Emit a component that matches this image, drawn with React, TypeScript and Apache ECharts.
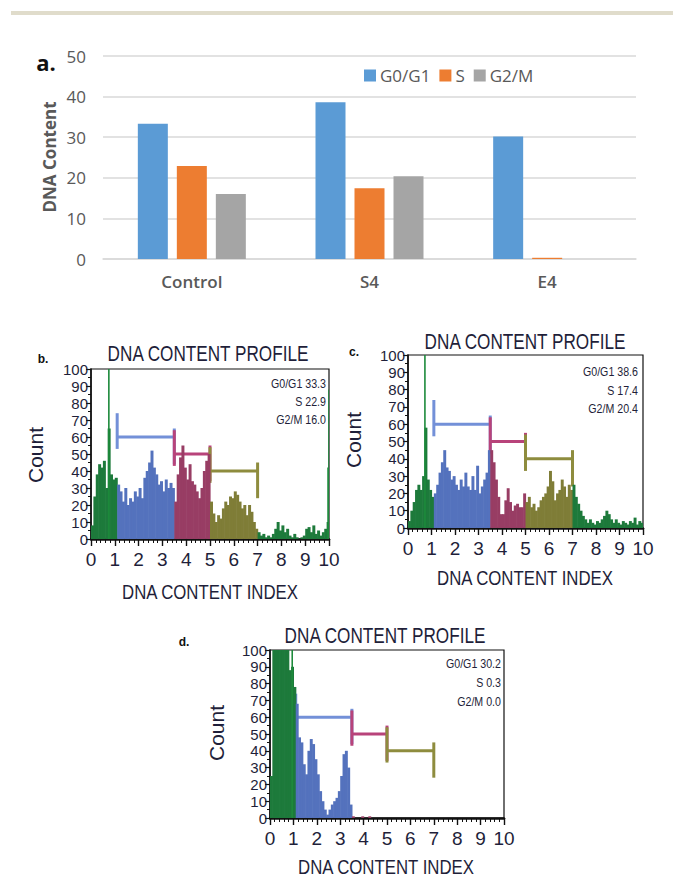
import React, { useEffect, useRef } from "react";
import * as echarts from "echarts";

// ---------- Panel a data ----------
const CATEGORIES = ["Control", "S4", "E4"];
const G0G1 = [33.3, 38.6, 30.2];
const S_PHASE = [22.9, 17.4, 0.3];
const G2M = [16.0, 20.4, 0.0];

// ---------- Histogram data (bins of 0.1 on DNA content index, 0..10) ----------
const BIN = 0.1;
const HIST_B = [
  8, 25, 38, 44, 42, 46, 30, 65, 38, 35,
  36, 32, 28, 22, 30, 20, 24, 22, 28, 25,
  30, 24, 36, 40, 45, 52, 42, 38, 32, 34,
  28, 35, 30, 33, 30, 22, 38, 48, 55, 42,
  35, 44, 34, 32, 28, 24, 30, 40, 46, 50,
  22, 15, 10, 14, 12, 18, 22, 20, 25, 24,
  28, 26, 22, 18, 20, 14, 20, 16, 10, 6,
  4, 2, 3, 1, 2, 1, 3, 6, 10, 5,
  8, 4, 6, 2, 1, 3, 1, 0, 1, 2,
  6, 7, 4, 8, 3, 5, 2, 4, 6, 10,
];
const HIST_C = [
  4, 10, 15, 22, 25, 22, 30, 58, 28, 22,
  18, 20, 25, 32, 38, 45, 35, 33, 28, 30,
  25, 22, 28, 24, 32, 24, 22, 30, 22, 36,
  20, 24, 28, 32, 45, 45, 38, 28, 18, 8,
  8, 16, 23, 15, 10, 13, 14, 12, 12, 20,
  15, 18, 12, 14, 10, 12, 16, 18, 20, 24,
  33, 27, 16, 20, 22, 28, 24, 18, 25, 22,
  25, 18, 14, 10, 7, 5, 3, 5, 3, 2,
  4, 3, 5, 7, 10, 8, 5, 3, 5, 3,
  2, 4, 3, 2, 4, 3, 6, 2, 4, 3,
];
const HIST_D = [
  25, 110, 110, 110, 110, 110, 110, 110, 88, 90,
  78, 68, 48, 45, 32, 26, 40, 47, 44, 35,
  26, 16, 10, 5, 2, 5, 8, 10, 12, 16,
  25, 38, 40, 30, 8, 1, 0, 0, 0, 1,
  0, 0, 1, 0, 0, 0, 0, 0, 0, 0,
  0, 0, 0, 0, 0, 0, 0, 0, 0, 0,
  0, 0, 0, 0, 0, 0, 0, 0, 0, 0,
  0, 0, 0, 0, 0, 0, 0, 0, 0, 0,
  0, 0, 0, 0, 0, 0, 0, 0, 0, 0,
  0, 0, 0, 0, 0, 0, 0, 0, 0, 0,
];
// narrow spikes (position, count)
const SPIKES_B = [[0.75, 100], [9.96, 42], [10.0, 88]];
const SPIKES_C = [[0.72, 100]];
const SPIKES_D = [[0.95, 100]];

// phase gates
const GATE_BOUNDS = [0, 1.1, 3.5, 5.0, 7.0, 10];
const BRACKET_START = [1.1, 3.5, 5.0];
const BRACKET_END = [3.5, 5.0, 7.0];
const BRACKET_LEVEL = [60, 50, 40];

const STATS_B = ["G0/G1 33.3", "S 22.9", "G2/M 16.0"];
const STATS_C = ["G0/G1 38.6", "S 17.4", "G2/M 20.4"];
const STATS_D = ["G0/G1 30.2", "S 0.3", "G2/M 0.0"];

// ---------- styles ----------
const BAR_COLORS = ["#5b9bd5", "#ed7d31", "#a5a5a5"];
const FILL_COLORS = ["#1d7a3b", "#5472bd", "#983d64", "#7f7d37", "#1d7a3b"];
const BRACKET_COLORS = ["#7390d8", "#b8437a", "#8e8c3e"];
const TXT_A = "#595959";
const TXT = "#1f1f3a";
const ARIAL = "'Liberation Sans', Arial, sans-serif";
const SANS_A = "'Open Sans', 'Noto Sans', sans-serif";

function colorFor(x: number) {
  for (let i = 0; i < GATE_BOUNDS.length - 1; i++) {
    if (x < GATE_BOUNDS[i + 1]) return FILL_COLORS[i];
  }
  return FILL_COLORS[FILL_COLORS.length - 1];
}

function histSeries(idx: number, hist: number[]) {
  return {
    type: "custom",
    xAxisIndex: idx,
    yAxisIndex: idx,
    clip: true,
    z: 3,
    silent: true,
    data: hist.map((v, i) => [i * BIN, v]),
    renderItem: (params: any, api: any) => {
      const x0 = api.value(0);
      const v = Math.min(api.value(1), 100);
      const a = api.coord([x0, 0]);
      const b = api.coord([x0 + BIN, v]);
      return {
        type: "rect",
        shape: { x: a[0], y: b[1], width: b[0] - a[0] + 0.6, height: a[1] - b[1] },
        style: { fill: colorFor(x0 + BIN / 2) },
      };
    },
  };
}

function spikeSeries(idx: number, spikes: number[][]) {
  return {
    type: "custom",
    xAxisIndex: idx,
    yAxisIndex: idx,
    clip: true,
    z: 4,
    silent: true,
    data: spikes,
    renderItem: (params: any, api: any) => {
      const a = api.coord([api.value(0), 0]);
      const b = api.coord([api.value(0), Math.min(api.value(1), 100)]);
      return {
        type: "line",
        shape: { x1: a[0], y1: a[1], x2: b[0], y2: b[1] },
        style: { stroke: "#1d8a3b", lineWidth: 1.6 },
      };
    },
  };
}

function bracketSeries(idx: number) {
  return {
    type: "custom",
    xAxisIndex: idx,
    yAxisIndex: idx,
    clip: false,
    z: 2,
    silent: true,
    data: BRACKET_START.map((s, i) => [s, BRACKET_END[i], BRACKET_LEVEL[i], i]),
    renderItem: (params: any, api: any) => {
      const s = api.value(0), e = api.value(1), lv = api.value(2);
      const col = BRACKET_COLORS[api.value(3)];
      const p1 = api.coord([s, lv]);
      const p2 = api.coord([e, lv]);
      const l1 = api.coord([s, lv - 7]);
      const l2 = api.coord([s, lv + 14]);
      const r1 = api.coord([e, lv - 16]);
      const r2 = api.coord([e, lv + 5]);
      const st = { stroke: col, lineWidth: 3 };
      return {
        type: "group",
        children: [
          { type: "line", shape: { x1: p1[0], y1: p1[1], x2: p2[0], y2: p2[1] }, style: st },
          { type: "line", shape: { x1: l1[0], y1: l1[1], x2: l2[0], y2: l2[1] }, style: st },
          { type: "line", shape: { x1: r1[0], y1: r1[1], x2: r2[0], y2: r2[1] }, style: st },
        ],
      };
    },
  };
}

function panelXAxis(idx: number) {
  return {
    gridIndex: idx,
    type: "value",
    min: 0,
    max: 10,
    interval: 1,
    axisLine: { show: true, onZero: false, lineStyle: { color: "#111", width: 2.5 } },
    axisTick: { show: true, length: 7, lineStyle: { color: "#111", width: 1.4 } },
    minorTick: { show: true, splitNumber: 5, length: 4, lineStyle: { color: "#111", width: 1 } },
    axisLabel: {
      margin: 11, fontSize: 19, fontFamily: ARIAL, color: TXT,
      showMinLabel: true, showMaxLabel: true, hideOverlap: false,
    },
    splitLine: { show: false },
  };
}

function panelYAxis(idx: number) {
  return {
    gridIndex: idx,
    type: "value",
    min: 0,
    max: 100,
    interval: 10,
    axisLine: { show: true, onZero: false, lineStyle: { color: "#111", width: 1.6 } },
    axisTick: { show: true, length: 5, lineStyle: { color: "#111", width: 1.2 } },
    minorTick: { show: true, splitNumber: 2, length: 3, lineStyle: { color: "#111", width: 1 } },
    axisLabel: {
      margin: 3, fontSize: 15, lineHeight: 15, fontFamily: ARIAL, color: TXT,
      showMinLabel: true, showMaxLabel: true, hideOverlap: false,
    },
    splitLine: { show: false },
  };
}

function txt(text: string, x: number, y: number, o: any = {}) {
  return {
    type: "text",
    x,
    y,
    rotation: o.rotation || 0,
    scaleX: o.scaleX || 1,
    z: 10,
    style: {
      text,
      fontSize: o.fontSize || 14,
      fontFamily: o.fontFamily || ARIAL,
      fontWeight: o.fontWeight || "normal",
      fill: o.fill || TXT,
      align: o.align || "center",
      verticalAlign: "middle",
    },
  };
}

function statsTexts(lines: string[], right: number, ys: number[]) {
  return lines.map((l, i) => txt(l, right, ys[i], { align: "right", fontSize: 13, scaleX: 0.82 }));
}

export default function App() {
  const ref = useRef<HTMLDivElement>(null);
  useEffect(() => {
    if (!ref.current) return;
    const chart = echarts.init(ref.current, undefined, { renderer: "svg" });
    const option: any = {
      animation: false,
      backgroundColor: "#ffffff",
      legend: {
        data: ["G0/G1", "S", "G2/M"],
        left: 359,
        top: 62,
        icon: "rect",
        itemWidth: 12,
        itemHeight: 12,
        itemGap: 9,
        textStyle: { fontSize: 17, fontFamily: SANS_A, color: TXT_A, padding: [0, 0, 0, -1] },
      },
      grid: [
        { left: 103, top: 56, width: 533, height: 203 },
        { left: 91, top: 369, width: 238, height: 170, show: true, borderColor: "#111", borderWidth: 1.2 },
        { left: 408, top: 355, width: 235, height: 173, show: true, borderColor: "#111", borderWidth: 1.2 },
        { left: 270, top: 650, width: 234, height: 168, show: true, borderColor: "#111", borderWidth: 1.2 },
      ],
      xAxis: [
        {
          gridIndex: 0,
          type: "category",
          data: CATEGORIES,
          axisLine: { show: true, lineStyle: { color: "#d9d9d9", width: 1.5 } },
          axisTick: { show: false },
          axisLabel: { margin: 14, fontSize: 17, fontWeight: 600, fontFamily: SANS_A, color: TXT_A },
        },
        panelXAxis(1),
        panelXAxis(2),
        panelXAxis(3),
      ],
      yAxis: [
        {
          gridIndex: 0,
          type: "value",
          min: 0,
          max: 50,
          interval: 10,
          axisLine: { show: false },
          axisTick: { show: false },
          axisLabel: { margin: 17, fontSize: 17, fontFamily: SANS_A, color: TXT_A },
          splitLine: { show: true, lineStyle: { color: "#d9d9d9", width: 1.5 } },
        },
        panelYAxis(1),
        panelYAxis(2),
        panelYAxis(3),
      ],
      series: [
        { name: "G0/G1", type: "bar", xAxisIndex: 0, yAxisIndex: 0, data: G0G1, barWidth: 30, barGap: "30%", itemStyle: { color: BAR_COLORS[0] } },
        { name: "S", type: "bar", xAxisIndex: 0, yAxisIndex: 0, data: S_PHASE, barWidth: 30, barGap: "30%", itemStyle: { color: BAR_COLORS[1] } },
        { name: "G2/M", type: "bar", xAxisIndex: 0, yAxisIndex: 0, data: G2M, barWidth: 30, barGap: "30%", itemStyle: { color: BAR_COLORS[2] } },
        bracketSeries(1),
        histSeries(1, HIST_B),
        spikeSeries(1, SPIKES_B),
        bracketSeries(2),
        histSeries(2, HIST_C),
        spikeSeries(2, SPIKES_C),
        bracketSeries(3),
        histSeries(3, HIST_D),
        spikeSeries(3, SPIKES_D),
      ],
      graphic: [
        { type: "rect", x: 11, y: 11, shape: { width: 662, height: 4 }, style: { fill: "#e0dccb" } },
        txt("a.", 46, 62, { fontSize: 22, fontWeight: "bold", fontFamily: SANS_A, fill: "#111" }),
        txt("DNA Content", 49, 157, { fontSize: 17, fontWeight: "bold", fontFamily: SANS_A, fill: TXT_A, rotation: Math.PI / 2 }),
        // panel b
        txt("b.", 43, 359, { fontSize: 12, fontWeight: "bold", fill: "#111" }),
        txt("DNA CONTENT PROFILE", 208, 353, { fontSize: 22, scaleX: 0.78 }),
        txt("Count", 35, 455, { fontSize: 21, rotation: Math.PI / 2 }),
        txt("DNA CONTENT INDEX", 210, 592, { fontSize: 21, scaleX: 0.8 }),
        ...statsTexts(STATS_B, 326, [384, 402, 420]),
        // panel c
        txt("c.", 354, 352, { fontSize: 12, fontWeight: "bold", fill: "#111" }),
        txt("DNA CONTENT PROFILE", 525, 341, { fontSize: 22, scaleX: 0.78 }),
        txt("Count", 353, 440, { fontSize: 21, rotation: Math.PI / 2 }),
        txt("DNA CONTENT INDEX", 525, 578, { fontSize: 21, scaleX: 0.8 }),
        ...statsTexts(STATS_C, 638, [372, 391, 409]),
        // panel d
        txt("d.", 184, 642, { fontSize: 12, fontWeight: "bold", fill: "#111" }),
        txt("DNA CONTENT PROFILE", 385, 635, { fontSize: 22, scaleX: 0.78 }),
        txt("Count", 216, 733, { fontSize: 21, rotation: Math.PI / 2 }),
        txt("DNA CONTENT INDEX", 386, 867, { fontSize: 21, scaleX: 0.8 }),
        ...statsTexts(STATS_D, 501, [664, 683, 702]),
      ],
    };
    chart.setOption(option);
    return () => chart.dispose();
  }, []);
  return (
    <div
      ref={ref}
      style={{ position: "absolute", left: 0, top: 0, width: 673, height: 878, background: "#fff" }}
    />
  );
}
